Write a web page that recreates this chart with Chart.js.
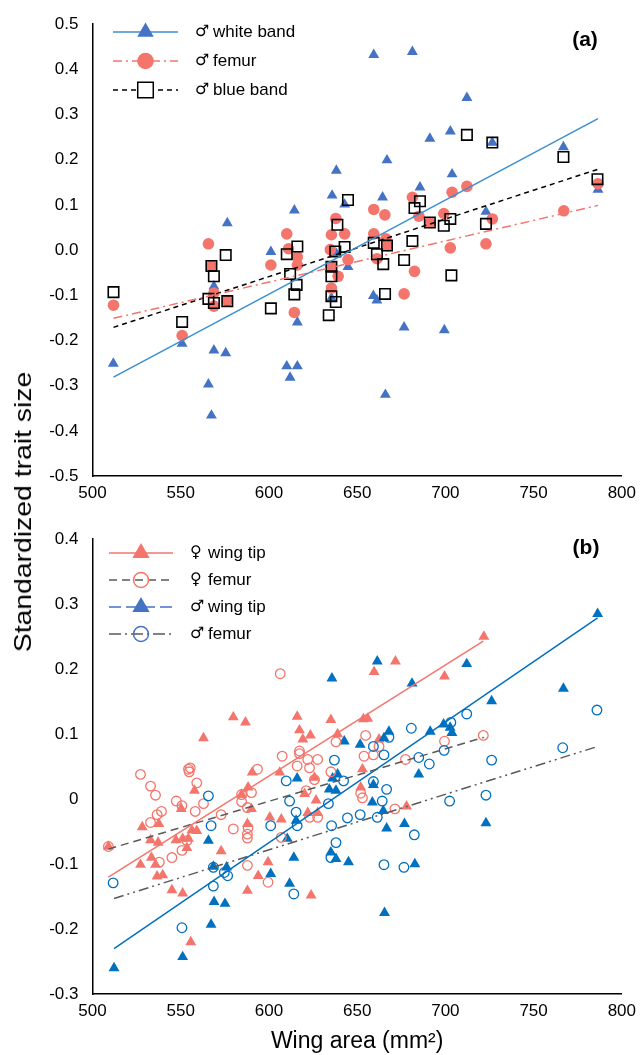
<!DOCTYPE html>
<html>
<head>
<meta charset="utf-8">
<script src="https://cdn.jsdelivr.net/npm/chart.js@4.4.1/dist/chart.umd.min.js"></script>
<style>
  body { margin: 0; background: #fff; }
  #wrap { position: relative; width: 643px; height: 1055px; overflow: hidden; }
  #chartA { position: absolute; left: 0; top: 0; }
  #chartB { position: absolute; left: 0; top: 515px; }
  #ytitle {
    position: absolute; left: 23px; top: 512px;
    font: 24px "Liberation Sans", Arial, sans-serif; color: #000;
    white-space: nowrap; transform: translate(-50%, -50%) rotate(-90deg);
  }
</style>
</head>
<body>
<div id="wrap">
  <canvas id="chartA" width="643" height="515"></canvas>
  <canvas id="chartB" width="643" height="540"></canvas>
  <div id="ytitle">Standardized trait size</div>
</div>
<script>
// ---- shared axis labels ----
const xTicks = ['500', '550', '600', '650', '700', '750', '800'];
const yTicksA = ['-0.5', '-0.4', '-0.3', '-0.2', '-0.1', '0.0', '0.1', '0.2', '0.3', '0.4', '0.5'];
const yTicksB = ['-0.3', '-0.2', '-0.1', '0', '0.1', '0.2', '0.3', '0.4'];

// ---- panel (a): males ----
const whiteBandX = [511.8, 550.8, 568.8, 568.8, 575.5, 565.7, 567.4, 576.4, 601.1, 610.1, 616.1, 612.0, 616.1, 614.4,
  638.2, 635.8, 642.9, 638.2, 644.8, 635.4, 659.4, 681.3, 712.2, 702.8, 691.2, 726.6, 766.9, 786.5, 666.9, 703.8,
  685.6, 664.4, 723.0, 659.2, 661.2, 676.6, 699.4, 666.0];
const whiteBandY = [-0.251, -0.207, -0.080, -0.222, -0.228, -0.297, -0.366, 0.060, -0.004, -0.257, -0.257, -0.282, -0.160, 0.088,
  0.176, 0.121, 0.101, -0.008, -0.037, -0.106, 0.432, 0.439, 0.337, 0.263, 0.247, 0.238, 0.228, 0.134, 0.199, 0.168,
  0.139, 0.117, 0.085, -0.101, -0.111, -0.171, -0.177, -0.320];

const femurAX = [511.9, 550.8, 565.7, 567.4, 568.8, 568.8, 576.4, 601.1, 610.1, 611.1, 616.1, 616.1, 614.4, 637.9,
  635.4, 642.9, 634.8, 644.8, 635.4, 639.2, 635.4, 712.2, 703.8, 681.3, 659.4, 665.7, 685.0, 699.1, 726.6, 767.1,
  786.5, 691.2, 659.4, 666.3, 666.9, 702.8, 723.0, 661.2, 682.5, 676.6];
const femurAY = [-0.122, -0.189, 0.014, -0.035, -0.095, -0.124, -0.112, -0.033, 0.036, 0.003, -0.015, -0.033, -0.138, 0.070,
  0.034, 0.036, 0.001, -0.021, -0.037, -0.058, -0.084, 0.141, 0.128, 0.117, 0.090, 0.078, 0.075, 0.081, 0.069, 0.087,
  0.147, 0.061, 0.036, 0.025, 0.010, 0.005, 0.014, -0.019, -0.047, -0.097];

const blueBandX = [511.9, 550.8, 565.7, 567.4, 568.8, 568.8, 575.5, 576.4, 601.1, 610.1, 616.1, 612.0, 615.7, 614.4,
  638.8, 644.8, 637.6, 642.9, 635.4, 635.4, 635.4, 637.9, 633.9, 712.2, 726.6, 766.9, 786.2, 685.6, 682.5, 702.8,
  691.2, 699.1, 723.0, 659.4, 666.9, 681.3, 661.2, 664.8, 676.6, 703.4, 665.8];
const blueBandY = [-0.093, -0.159, -0.108, -0.035, -0.058, -0.117, -0.011, -0.113, -0.129, -0.009, 0.008, -0.053, -0.077, -0.098,
  0.056, 0.111, -0.003, 0.007, -0.037, -0.058, -0.102, -0.115, -0.144, 0.255, 0.238, 0.206, 0.157, 0.108, 0.093, 0.069,
  0.061, 0.054, 0.058, 0.016, 0.010, 0.020, -0.009, -0.031, -0.022, -0.056, -0.097];

// trend line end points, panel (a)
const fitAX = [511.9, 786.5];
const whiteBandFit = [-0.281, 0.291];
const femurAFit = [-0.151, 0.099];
const blueBandFit = [-0.171, 0.179];

// ---- panel (b) ----
const fWingX = [579.8, 586.7, 616.0, 635.1, 562.9, 617.3, 623.5, 619.2, 638.9, 653.5, 509.0, 528.2, 537.6, 532.9,
  537.2, 533.4, 527.2, 535.7, 536.6, 539.8, 545.0, 551.1, 555.7, 550.3, 547.3, 551.1, 554.4, 553.5, 557.8, 556.3,
  559.1, 572.9, 590.5, 588.2, 584.5, 590.1, 587.8, 600.5, 607.0, 599.5, 593.9, 587.8, 623.9, 606.1, 625.8, 620.2,
  626.7, 622.0, 627.6, 652.0, 721.8, 671.7, 659.6, 699.5, 656.0, 662.4, 653.0, 678.0];
const fWingY = [0.126, 0.118, 0.127, 0.122, 0.094, 0.106, 0.098, 0.092, 0.100, 0.123, -0.073, -0.043, -0.038, -0.063,
  -0.067, -0.090, -0.101, -0.101, -0.119, -0.117, -0.140, -0.145, -0.220, -0.015, -0.063, -0.061, -0.061, -0.075, 0.013, -0.048,
  -0.049, -0.080, 0.041, 0.018, 0.007, -0.015, -0.038, -0.028, -0.031, -0.097, -0.118, -0.141, -0.148, 0.041, 0.033, 0.008,
  -0.002, -0.021, -0.021, 0.018, 0.250, 0.212, 0.196, 0.189, 0.124, 0.092, 0.046, -0.011];

const fFemurX = [606.4, 638.0, 654.8, 617.3, 527.2, 532.9, 535.7, 554.4, 555.4, 554.8, 559.1, 547.5, 550.7, 539.1,
  536.6, 532.9, 558.2, 562.9, 553.5, 550.7, 545.0, 537.9, 509.0, 572.9, 579.8, 588.2, 587.8, 587.8, 593.5, 584.5,
  590.1, 584.5, 587.8, 607.5, 617.3, 616.0, 622.0, 627.6, 623.0, 635.1, 625.8, 621.1, 607.0, 587.8, 599.5, 623.0,
  627.6, 653.9, 653.0, 652.0, 721.5, 699.5, 662.4, 659.2, 677.4, 671.4];
const fFemurY = [0.193, 0.088, 0.098, 0.074, 0.038, 0.020, 0.006, 0.046, 0.048, 0.042, 0.025, -0.003, -0.010, -0.019,
  -0.024, -0.036, -0.019, -0.007, -0.064, -0.079, -0.090, -0.097, -0.073, -0.024, -0.046, -0.044, -0.054, -0.060, 0.046, 0.007,
  0.010, -0.004, -0.013, 0.066, 0.070, 0.051, 0.061, 0.061, 0.048, 0.042, 0.030, 0.013, -0.059, -0.102, -0.128, -0.028,
  -0.028, 0.066, 0.002, 0.009, 0.098, 0.089, 0.081, 0.068, 0.061, -0.015];

const mWingX = [635.7, 642.7, 651.7, 512.2, 551.1, 567.2, 568.9, 575.1, 565.7, 568.5, 576.0, 601.0, 611.7, 610.4,
  614.1, 615.4, 616.0, 636.1, 638.9, 634.2, 638.0, 635.1, 638.0, 645.1, 786.3, 661.4, 712.1, 681.1, 766.9, 726.2,
  699.0, 702.7, 703.7, 691.4, 668.0, 665.2, 684.9, 659.2, 658.6, 664.8, 666.7, 676.8, 723.0, 682.7, 665.5];
const mWingY = [0.186, 0.089, 0.084, -0.260, -0.243, -0.193, -0.158, -0.161, -0.064, -0.104, -0.105, -0.115, -0.130, -0.061,
  -0.090, -0.033, 0.032, 0.032, 0.038, 0.015, 0.013, -0.082, -0.092, -0.097, 0.285, 0.212, 0.208, 0.178, 0.170, 0.151,
  0.115, 0.110, 0.102, 0.104, 0.104, 0.094, 0.038, 0.022, -0.005, -0.018, -0.045, -0.038, -0.037, -0.100, -0.175];

const mFemurX = [511.7, 550.7, 565.7, 567.2, 568.5, 574.7, 576.6, 568.5, 601.0, 609.8, 611.7, 615.4, 616.0, 614.1,
  637.1, 642.3, 633.7, 635.5, 638.0, 635.1, 644.5, 651.7, 785.9, 712.1, 703.1, 680.7, 668.0, 659.2, 766.5, 699.3,
  726.2, 684.9, 690.9, 665.2, 659.2, 666.7, 664.2, 702.4, 723.0, 661.4, 682.4, 665.2, 676.5];
const mFemurY = [-0.129, -0.198, 0.005, -0.041, -0.105, -0.113, -0.118, -0.134, -0.041, 0.028, -0.003, -0.020, -0.041, -0.146,
  0.060, 0.028, -0.007, -0.041, -0.067, -0.090, -0.029, -0.024, 0.137, 0.131, 0.118, 0.109, 0.095, 0.081, 0.079, 0.075,
  0.060, 0.064, 0.054, 0.068, 0.027, 0.015, -0.003, -0.003, 0.006, -0.028, -0.055, -0.101, -0.105];

// trend line end points, panel (b)
const fWingFitX = [509.0, 721.5];
const fWingFit = [-0.120, 0.243];
const fFemurFitX = [509.0, 721.8];
const fFemurFit = [-0.077, 0.095];
const mFitX = [512.2, 786.3];
const mWingFit = [-0.230, 0.279];
const mFemurFit = [-0.153, 0.081];

const SALMON = '#F4756C';
const BLUE_A = '#4472C4';
const BLUE_B = '#0070C0';
const GREY = '#595959';

Chart.defaults.font.family = '"Liberation Sans", Arial, Helvetica, sans-serif';
Chart.defaults.color = '#000';

const pts = (xs, ys) => xs.map((x, i) => ({ x: x, y: ys[i] }));

// legend + panel tag drawn inside the plot
const panelLegend = {
  id: 'panelLegend',
  afterDraw(chart, args, o) {
    const ctx = chart.ctx;
    ctx.save();
    o.items.forEach((it, i) => {
      const y = o.y + i * o.gap;
      ctx.strokeStyle = it.line;
      ctx.lineWidth = 1.5;
      ctx.setLineDash(it.dash || []);
      ctx.beginPath();
      ctx.moveTo(o.x1, y);
      ctx.lineTo(o.x2, y);
      ctx.stroke();
      ctx.setLineDash([]);
      ctx.fillStyle = it.fill;
      ctx.strokeStyle = it.stroke;
      Chart.helpers.drawPoint(ctx, { pointStyle: it.style, radius: it.r, borderWidth: it.bw, rotation: 0 }, (o.x1 + o.x2) / 2, y);
      ctx.fillStyle = '#000';
      ctx.textBaseline = 'middle';
      ctx.textAlign = 'left';
      // sex symbol first, then the trait name
      ctx.font = '16px "DejaVu Sans", sans-serif';
      ctx.fillText(it.label.slice(0, 1), o.tx, y);
      ctx.font = '17px "Liberation Sans", Arial, sans-serif';
      ctx.fillText(it.label.slice(2), o.tx + 18, y);
    });
    ctx.font = 'bold 21px "Liberation Sans", Arial, sans-serif';
    ctx.textAlign = 'center';
    ctx.textBaseline = 'middle';
    ctx.fillText(o.tag, o.tagX, o.tagY);
    ctx.restore();
  }
};

function scales(yMin, yMax, yLabels, xHeight, title) {
  return {
    x: {
      type: 'linear', min: 500, max: 800,
      ticks: { stepSize: 50, padding: 7, font: { size: 17 }, callback: (v, i) => xTicks[i] },
      grid: { display: false, drawTicks: false },
      border: { display: true, color: '#000', width: 1.5 },
      title: title ? { display: true, text: title, font: { size: 23 }, padding: { top: 0, bottom: 0 } } : { display: false },
      afterFit: s => { s.height = xHeight; }
    },
    y: {
      type: 'linear', min: yMin, max: yMax,
      ticks: { stepSize: 0.1, padding: 14, font: { size: 17 }, callback: (v, i) => yLabels[i] },
      grid: { display: false, drawTicks: false },
      border: { display: true, color: '#000', width: 1.5 },
      afterFit: s => { s.width = 92.5; }
    }
  };
}

const trend = (xs, ys, color, dash, order) => ({
  type: 'line', data: pts(xs, ys), showLine: true, borderColor: color, borderWidth: 1.5,
  borderDash: dash, pointRadius: 0, fill: false, order: order
});

new Chart(document.getElementById('chartA'), {
  type: 'scatter',
  data: {
    datasets: [
      trend(fitAX, whiteBandFit, '#3B8FD0', [], 0),
      trend(fitAX, femurAFit, SALMON, [9, 4, 2, 4], 0),
      trend(fitAX, blueBandFit, '#000', [5, 4], 0),
      { data: pts(blueBandX, blueBandY), pointStyle: 'rect', pointRadius: 7.4, backgroundColor: 'rgba(0,0,0,0)',
        borderColor: '#000', borderWidth: 1.6, order: 1 },
      { data: pts(femurAX, femurAY), pointStyle: 'circle', pointRadius: 5.8, backgroundColor: SALMON,
        borderColor: SALMON, borderWidth: 0, order: 2 },
      { data: pts(whiteBandX, whiteBandY), pointStyle: 'triangle', pointRadius: 6.3, backgroundColor: BLUE_A,
        borderColor: BLUE_A, borderWidth: 0, order: 3 }
    ]
  },
  options: {
    responsive: false, animation: false, events: [],
    layout: { padding: { top: 17, right: 17, left: 0, bottom: 0 } },
    plugins: {
      legend: { display: false }, tooltip: { enabled: false },
      panelLegend: {
        x1: 113, x2: 178, tx: 195, y: 32, gap: 29, tag: '(a)', tagX: 585, tagY: 40,
        items: [
          { label: '♂ white band', line: '#3B8FD0', dash: [], style: 'triangle', r: 9.5, bw: 0, fill: BLUE_A, stroke: BLUE_A },
          { label: '♂ femur', line: SALMON, dash: [9, 4, 2, 4], style: 'circle', r: 8.3, bw: 0, fill: SALMON, stroke: SALMON },
          { label: '♂ blue band', line: '#000', dash: [5, 4], style: 'rect', r: 11, bw: 1.8, fill: '#fff', stroke: '#000' }
        ]
      }
    },
    scales: scales(-0.5, 0.5, yTicksA, 39, null)
  },
  plugins: [panelLegend]
});

new Chart(document.getElementById('chartB'), {
  type: 'scatter',
  data: {
    datasets: [
      trend(fWingFitX, fWingFit, SALMON, [], 0),
      trend(fFemurFitX, fFemurFit, GREY, [8, 5], 0),
      trend(mFitX, mWingFit, BLUE_B, [], 0),
      trend(mFitX, mFemurFit, GREY, [10, 4, 2, 4, 2, 4], 0),
      { data: pts(mFemurX, mFemurY), pointStyle: 'circle', pointRadius: 4.8, backgroundColor: 'rgba(0,0,0,0)',
        borderColor: BLUE_B, borderWidth: 1.3, order: 1 },
      { data: pts(fFemurX, fFemurY), pointStyle: 'circle', pointRadius: 4.8, backgroundColor: 'rgba(0,0,0,0)',
        borderColor: SALMON, borderWidth: 1.3, order: 2 },
      { data: pts(mWingX, mWingY), pointStyle: 'triangle', pointRadius: 6.3, backgroundColor: BLUE_B,
        borderColor: BLUE_B, borderWidth: 0, order: 3 },
      { data: pts(fWingX, fWingY), pointStyle: 'triangle', pointRadius: 6.3, backgroundColor: SALMON,
        borderColor: SALMON, borderWidth: 0, order: 4 }
    ]
  },
  options: {
    responsive: false, animation: false, events: [],
    layout: { padding: { top: 22, right: 17, left: 0, bottom: 0 } },
    plugins: {
      legend: { display: false }, tooltip: { enabled: false },
      panelLegend: {
        x1: 109, x2: 173, tx: 190, y: 38, gap: 27, tag: '(b)', tagX: 586, tagY: 33,
        items: [
          { label: '♀ wing tip', line: SALMON, dash: [], style: 'triangle', r: 10, bw: 0, fill: SALMON, stroke: SALMON },
          { label: '♀ femur', line: GREY, dash: [8, 5], style: 'circle', r: 7.5, bw: 1.6, fill: 'rgba(0,0,0,0)', stroke: SALMON },
          { label: '♂ wing tip', line: '#4472C4', dash: [12, 5], style: 'triangle', r: 10, bw: 0, fill: '#4472C4', stroke: '#4472C4' },
          { label: '♂ femur', line: GREY, dash: [12, 4, 2, 4], style: 'circle', r: 7.5, bw: 1.6, fill: 'rgba(0,0,0,0)', stroke: '#4472C4' }
        ]
      }
    },
    scales: scales(-0.3, 0.4, yTicksB, 61, 'Wing area (mm²)')
  },
  plugins: [panelLegend]
});

// stretch the shared y title to the length it has in the figure
const yt = document.getElementById('ytitle');
const k = 280 / yt.offsetWidth;
yt.style.transform = 'translate(-50%, -50%) rotate(-90deg) scaleX(' + k.toFixed(3) + ')';
</script>
</body>
</html>
